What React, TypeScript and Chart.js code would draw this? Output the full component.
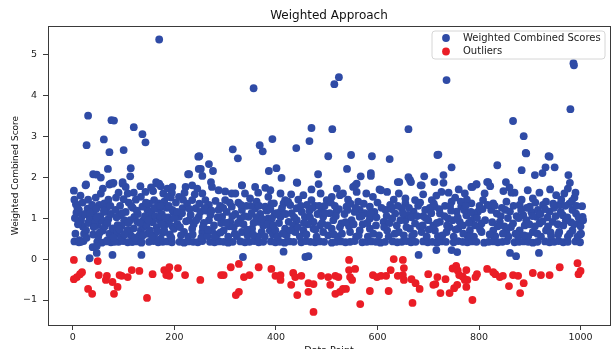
import React, { useEffect, useRef } from "react";
import { Chart, registerables } from "chart.js";

Chart.register(...registerables);

type P = [number, number];

const chartTitle = "Weighted Approach";
const xTitle = "Data Point";
const yTitle = "Weighted Combined Score";
const seriesNames = ["Weighted Combined Scores", "Outliers"];
const xTicks = [0, 200, 400, 600, 800, 1000];
const yTicks = [-1, 0, 1, 2, 3, 4, 5];

// dense bottom row of scores (~0.4)
const floorScores: P[] = [
  [3,0.43],[12,0.41],[21,0.44],[48,0.42],[57,0.4],[66,0.43],[75,0.41],[90,0.42],[99,0.44],[108,0.41],[117,0.42],[126,0.43],[135,0.4],[150,0.42],[159,0.44],[168,0.41],[177,0.42],[186,0.43],[195,0.41],
  [210,0.42],[219,0.4],[228,0.43],[237,0.42],[246,0.41],[255,0.44],[270,0.42],[279,0.41],[288,0.43],[297,0.42],[306,0.4],[315,0.42],[330,0.43],[339,0.41],[348,0.42],[357,0.44],[366,0.41],[375,0.42],[390,0.43],[399,0.41],
  [408,0.42],[417,0.4],[426,0.43],[435,0.42],[450,0.41],[459,0.44],[468,0.42],[477,0.41],[486,0.43],[495,0.42],[510,0.4],[519,0.42],[528,0.43],[537,0.41],[546,0.42],[555,0.44],[570,0.41],[579,0.42],[588,0.43],[597,0.42],
  [606,0.4],[615,0.42],[630,0.43],[639,0.41],[648,0.42],[657,0.44],[666,0.41],[675,0.42],[690,0.43],[699,0.41],[708,0.42],[717,0.4],[726,0.43],[735,0.42],[750,0.41],[759,0.44],[768,0.42],[777,0.41],[786,0.43],[795,0.42],
  [810,0.4],[819,0.42],[828,0.43],[837,0.41],[846,0.42],[855,0.44],[870,0.41],[879,0.42],[888,0.43],[897,0.42],[906,0.4],[915,0.42],[930,0.43],[939,0.41],[948,0.42],[957,0.44],[966,0.41],[975,0.42],[990,0.43],[999,0.41],
];

const scoresA: P[] = [
  [2,1.67],[26,1.82],[55,1.6],[59,1.72],[72,1.82],[78,1.84],[98,1.84],[104,1.76],[85,1.5],[100,1.46],[134,1.52],[143,1.64],[158,1.66],[166,1.84],[6,1.34],[7,1.13],[16,0.95],[29,1.23],[36,1.19],[42,1.07],
  [52,1.32],[62,1.36],[65,1.15],[20,0.79],[26,0.7],[36,0.95],[49,0.83],[59,0.7],[13,0.46],[16,0.42],[82,0.58],[95,0.54],[114,0.58],[111,0.7],[91,1.07],[101,0.95],[88,0.83],[121,1.03],[127,0.91],[134,0.7],
  [140,0.79],[147,1.2],[153,1.03],[160,1.44],[169,1.36],[147,0.62],[160,0.58],[173,0.5],[117,0.42],[134,0.46],[68,0.46],[82,0.42],[163,0.46],[25,1.8],[75,1.85],[80,1.86],[133,1.78],[154,1.75],[164,1.88],[173,1.78],
  [4,1.0],[10,0.85],[12,1.2],[18,1.05],[22,0.62],[24,1.1],[30,0.88],[33,0.98],[38,1.32],[40,0.6],[44,0.9],[46,1.22],[50,0.55],[54,1.05],[57,0.95],[63,0.8],[66,1.25],[70,0.98],[72,0.62],[75,1.1],
  [78,0.75],[84,1.2],[87,0.68],[93,1.3],[96,0.82],[104,1.15],[107,0.7],[110,1.38],[113,0.95],[118,1.25],[120,0.75],[124,1.45],[128,1.1],[131,0.58],[137,1.28],[139,0.95],[142,1.05],[145,0.82],[150,1.35],[152,0.7],
  [155,1.15],[157,0.9],[162,1.05],[165,0.78],[168,1.22],[171,0.95],[175,1.1],[178,0.65],[180,1.4],[183,0.85],[185,1.25],[188,1.02],[191,0.6],[193,1.5],[196,0.8],[198,1.15],[178,1.6],[186,1.72],[195,1.62],[120,1.62],
  [108,1.6],[45,1.5],[30,1.45],[15,1.55],[3,1.45],[70,1.45],[90,1.62],
];

const scoresB: P[] = [
  [196,1.76],[222,1.76],[235,1.8],[245,1.72],[274,1.76],[287,1.68],[333,1.8],[359,1.76],[379,1.74],[313,1.6],[339,1.6],[255,1.6],[186,1.52],[209,1.52],[235,1.44],[261,1.44],[300,1.44],[349,1.48],[385,1.52],[177,1.28],
  [196,1.2],[216,1.24],[242,1.24],[268,1.32],[287,1.2],[313,1.28],[333,1.2],[359,1.24],[379,1.28],[173,1.03],[190,0.95],[209,1.03],[229,0.95],[248,1.03],[268,0.95],[294,1.03],[310,0.91],[330,0.99],[346,1.03],[366,0.91],
  [385,0.99],[180,0.7],[199,0.74],[219,0.66],[235,0.74],[255,0.66],[274,0.7],[297,0.7],[317,0.78],[333,0.66],[353,0.74],[372,0.66],[388,0.7],[170,1.84],
  [203,1.38],[206,0.85],[213,0.58],[215,1.12],[225,1.35],[227,0.55],[232,1.08],[238,0.85],[240,1.58],[251,1.15],[253,0.52],[258,0.88],[263,1.18],[265,0.56],[271,1.08],[278,0.82],[281,1.42],[284,0.6],[290,1.3],[292,0.88],
  [303,1.15],[306,0.55],[308,0.8],[320,1.1],[323,0.56],[326,1.38],[336,0.85],[342,1.3],[344,0.58],[352,1.12],[356,0.88],[362,1.4],[364,0.55],[369,1.1],[375,0.82],[382,1.18],[391,1.35],[394,0.6],[397,1.08],[320,1.6],
  [300,1.65],[365,1.62],[220,1.62],
];

const scoresC: P[] = [
  [441,1.87],[559,1.84],[552,1.76],[604,1.7],[389,1.68],[409,1.6],[418,1.44],[415,1.36],[454,1.56],[470,1.44],[500,1.44],[510,1.52],[526,1.56],[532,1.6],[559,1.64],[578,1.6],[591,1.52],[607,1.68],[396,1.36],[409,1.16],
  [428,1.32],[441,1.24],[461,1.32],[490,1.2],[519,1.16],[539,1.28],[565,1.2],[585,1.28],[392,0.99],[409,1.03],[425,0.91],[441,0.95],[457,1.03],[474,0.91],[493,1.03],[513,0.95],[529,0.87],[549,0.95],[565,1.03],[585,0.99],
  [399,0.7],[418,0.74],[438,0.66],[454,0.7],[474,0.74],[493,0.66],[510,0.74],[526,0.78],[546,0.66],[565,0.7],[585,0.74],
  [403,0.55],[412,1.25],[421,0.58],[431,1.12],[434,0.82],[444,1.45],[447,0.55],[451,1.15],[463,0.85],[466,1.18],[477,1.3],[480,0.55],[482,1.1],[487,0.82],[496,1.3],[503,0.58],[506,1.12],[516,1.3],[522,0.55],[535,1.1],
  [542,1.45],[544,0.8],[555,1.15],[558,0.55],[562,1.4],[571,0.85],[575,1.12],[581,0.55],[594,1.15],[597,0.82],[600,1.38],[488,1.6],[470,1.7],[520,1.72],[430,1.58],
];

const scoresD: P[] = [
  [664,1.93],[687,1.8],[619,1.64],[642,1.6],[655,1.48],[726,1.64],[772,1.6],[785,1.76],[795,1.82],[818,1.88],[811,1.6],[625,1.32],[655,1.36],[674,1.44],[707,1.44],[713,1.28],[746,1.4],[765,1.28],[785,1.36],[808,1.44],
  [616,1.2],[635,1.11],[648,1.24],[671,1.16],[694,1.2],[723,1.11],[756,1.16],[775,1.07],[798,1.16],[612,0.91],[629,0.99],[655,0.95],[674,0.87],[700,0.95],[723,0.91],[739,0.99],[762,0.91],[785,0.95],[805,0.87],[619,0.7],
  [642,0.66],[664,0.74],[687,0.66],[713,0.7],[736,0.66],[759,0.74],[782,0.7],[805,0.66],
  [622,0.55],[632,1.45],[638,0.82],[652,0.58],[660,1.08],[668,0.56],[680,1.3],[683,0.8],[690,1.05],[697,0.55],[703,1.25],[710,0.82],[716,1.55],[719,0.56],[733,1.3],[742,0.78],[745,1.18],[750,0.55],[753,1.5],[768,0.82],
  [771,1.2],[778,0.55],[789,1.12],[792,0.82],[801,1.3],[776,1.45],[740,1.62],[690,1.58],[760,1.7],
];

const scoresE: P[] = [
  [848,1.66],[864,1.62],[870,1.62],[919,1.62],[906,1.48],[952,1.56],[968,1.6],[1003,1.29],[828,1.36],[854,1.4],[880,1.32],[900,1.28],[932,1.4],[958,1.32],[984,1.2],[835,1.11],[861,1.16],[887,1.07],[913,1.03],[939,1.16],
  [965,1.07],[991,1.11],[1004,1.03],[841,0.91],[867,0.87],[893,0.95],[919,0.87],[945,0.91],[971,0.95],[997,0.87],[828,0.7],[854,0.66],[880,0.7],[906,0.66],[932,0.7],[958,0.66],[984,0.7],[999,0.6],
  [824,1.2],[832,0.56],[845,1.25],[850,0.8],[858,0.55],[874,1.05],[877,0.56],[884,1.45],[890,0.82],[897,0.56],[903,1.15],[910,0.8],[916,1.2],[922,0.55],[926,1.32],[936,0.8],[942,0.56],[948,1.25],[955,0.85],[962,1.45],
  [975,0.55],[978,1.35],[981,0.9],[988,1.5],[994,0.55],[1000,0.8],[990,1.62],[975,1.72],[940,1.7],[896,1.68],[860,1.75],
];

// additional mid-band scores
const scoresMid: P[] = [
  [5,0.62],[9,1.25],[19,1.38],[27,0.52],[34,1.12],[41,0.78],[47,1.02],[53,0.65],[61,1.18],[68,0.88],[74,1.3],[80,0.52],[86,1.02],[92,0.72],[97,1.12],[102,0.6],[109,0.88],[115,1.3],[122,0.52],[126,1.18],
  [132,0.88],[138,0.58],[144,1.38],[149,0.95],[156,0.55],[161,1.25],[167,0.68],[172,1.3],[176,0.85],[182,1.02],[189,1.3],[194,0.52],[200,1.0],[205,1.15],[211,0.78],[217,1.45],[223,0.92],[230,1.22],[236,0.6],[243,0.95],
  [249,1.35],[256,0.78],[260,1.25],[266,0.72],[273,1.18],[279,0.55],[285,1.02],[291,0.65],[296,1.25],[302,0.88],[309,1.38],[314,1.05],[319,0.62],[325,0.88],[331,1.32],[338,1.05],[343,0.72],[350,1.3],[355,0.6],[361,1.02],
  [367,1.3],[373,0.98],[378,0.55],[384,0.85],[389,1.22],[395,0.82],[401,1.12],[406,0.88],[413,0.62],[419,1.1],[424,1.4],[429,0.7],[436,1.02],[443,0.78],[449,1.3],[455,0.88],[460,0.6],[467,1.02],[472,1.25],[478,0.72],
  [485,1.3],[491,0.88],[497,1.12],[502,0.82],[508,1.38],[514,0.6],[518,1.05],[524,1.22],[530,0.62],[537,0.9],[541,1.2],[547,1.35],[553,0.85],[557,1.25],[563,0.58],[569,1.05],[573,1.35],[580,0.88],[586,1.12],[592,0.62],
  [598,1.02],[603,0.58],[608,1.25],[613,0.78],[618,1.05],[624,0.88],[628,1.22],[634,0.62],[640,1.3],[645,0.95],[650,1.12],[657,0.78],[662,1.25],[667,1.02],[672,0.62],[678,1.05],[684,1.38],[689,0.82],[695,1.0],[701,0.72],
  [706,1.12],[711,1.35],[717,0.88],[722,1.22],[728,0.58],[732,1.05],[737,0.82],[743,1.3],[748,0.95],[754,0.72],[758,1.02],[764,1.4],[769,0.62],[774,1.3],[780,0.88],[784,1.15],[790,0.55],[796,1.0],[802,0.72],[807,1.22],
  [812,0.95],[817,1.32],[821,0.6],[826,0.9],[831,1.3],[837,0.8],[843,1.05],[847,0.62],[852,1.2],[857,1.0],[863,0.78],[868,1.3],[872,0.62],[878,1.0],[883,1.2],[889,0.58],[894,1.25],[899,0.85],[905,1.05],[911,1.38],
  [915,0.62],[921,1.1],[925,0.92],[930,1.22],[935,1.02],[941,0.65],[946,1.35],[951,1.05],[956,0.6],[961,1.15],[966,0.82],[970,1.3],[974,1.02],[979,0.62],[983,1.42],[987,0.85],[992,1.3],[996,1.02],[1001,0.62],[1005,0.95],
];

const highScores: P[] = [
  [170,5.36],[30,3.5],[76,3.39],[81,3.38],[120,3.22],[137,3.05],[143,2.85],[27,2.78],[61,2.92],[72,2.61],[100,2.66],[69,2.2],[114,2.22],[113,2.02],[40,2.07],[47,2.06],[55,1.99],[98,1.88],[227,2.07],[247,2.5],
  [248,2.2],[356,4.17],[515,4.27],[524,4.44],[470,3.2],[511,3.17],[393,2.93],[466,2.88],[315,2.68],[325,2.46],[368,2.78],[374,2.63],[440,2.71],[249,2.51],[503,2.51],[548,2.54],[589,2.51],[624,2.44],[540,2.2],[268,2.32],
  [252,2.2],[276,2.15],[255,2.03],[272,1.88],[229,2.07],[401,2.22],[386,2.15],[411,1.98],[442,1.86],[483,2.07],[484,1.83],[567,2.02],[587,2.1],[587,2.03],[333,1.8],[640,1.88],[556,1.8],
  [986,4.78],[987,4.73],[736,4.37],[980,3.66],[661,3.17],[867,3.37],[888,3.0],[892,2.59],[718,2.54],[937,2.51],[746,2.24],[836,2.29],[884,2.17],[931,2.24],[949,2.24],[910,2.05],[925,2.1],[976,2.05],[979,1.86],[692,2.02],
  [661,2.0],[666,1.88],[643,1.88],[685,1.8],[712,1.88],[730,2.05],[730,1.86],[787,1.76],[795,1.83],[816,1.88],[822,1.78],[853,1.88],[720,2.55],[893,2.58],[939,2.5],
];

const lowScores: P[] = [
  [33,0.02],[47,0.15],[39,0.29],[47,0.32],[78,0.1],[135,0.1],[335,0.05],[415,0.18],[458,0.05],[464,0.07],[681,0.1],[716,0.22],[746,0.22],[757,0.17],[861,0.15],[873,0.07],[918,0.15],
];

const outliers: P[] = [
  [2,-0.02],[2,-0.49],[8,-0.44],[14,-0.37],[18,-0.32],[49,-0.05],[30,-0.73],[38,-0.85],[51,-0.39],[65,-0.51],[67,-0.41],[78,-0.56],[88,-0.68],[81,-0.85],[92,-0.39],[96,-0.41],[108,-0.44],[116,-0.27],[131,-0.29],[146,-0.95],
  [157,-0.37],[180,-0.27],[186,-0.29],[190,-0.2],[184,-0.39],[190,-0.41],[207,-0.22],[221,-0.39],[251,-0.51],[292,-0.39],[297,-0.39],[311,-0.2],[327,-0.12],[321,-0.88],[327,-0.8],[337,-0.44],[348,-0.39],[366,-0.2],[391,-0.24],[399,-0.41],
  [409,-0.39],[409,-0.51],[434,-0.34],[438,-0.44],[450,-0.41],[430,-0.63],[442,-0.88],[464,-0.59],[474,-0.61],[464,-0.8],[474,-1.29],[489,-0.41],[503,-0.44],[517,-0.41],[523,-0.44],[507,-0.63],[517,-0.85],[526,-0.8],[532,-0.73],[544,-0.02],
  [544,-0.27],[556,-0.24],[546,-0.44],[550,-0.51],[538,-0.73],[566,-1.1],[585,-0.78],[591,-0.39],[599,-0.44],[607,-0.41],[617,-0.41],[622,-0.78],[626,-0.27],[632,0.0],[640,-0.41],[650,-0.39],[652,-0.51],[650,-0.02],[652,-0.22],[667,-0.49],
  [675,-0.59],[683,-0.73],[669,-1.07],[700,-0.37],[710,-0.63],[714,-0.61],[718,-0.44],[724,-0.83],[734,-0.49],[742,-0.83],[748,-0.23],[755,-0.17],[758,-0.28],[761,-0.39],[768,-0.43],[772,-0.51],[751,-0.71],[757,-0.63],[775,-0.27],[777,-0.51],
  [775,-0.68],[787,-1.0],[793,-0.44],[796,-0.37],[816,-0.24],[828,-0.32],[832,-0.37],[841,-0.44],[847,-0.41],[859,-0.66],[867,-0.39],[877,-0.41],[881,-0.83],[888,-0.59],[906,-0.34],[922,-0.39],[939,-0.39],[959,-0.2],[994,-0.1],[996,-0.37],
  [1000,-0.29],
];

const BLUE = "#2f4ba6";
const RED = "#ea1d26";
const FONT = "'DejaVu Sans', sans-serif";
const AXIS = "#3a3a3a";
const RADIUS = 3.9;

const toXY = (arr: P[]) => arr.map(([x, y]) => ({ x, y }));

const framePlugin = {
  id: "frame",
  afterDraw(chart: any) {
    const { ctx, chartArea: a } = chart;
    ctx.save();
    ctx.strokeStyle = AXIS;
    ctx.lineWidth = 1;
    ctx.strokeRect(Math.round(a.left) + 0.5, Math.round(a.top) + 0.5, Math.round(a.right - a.left), Math.round(a.bottom - a.top));
    ctx.restore();
  },
};

const legendPlugin = {
  id: "boxLegend",
  afterDraw(chart: any) {
    const { ctx } = chart;
    const x0 = 432, y0 = 31, w = 173, h = 28;
    ctx.save();
    ctx.beginPath();
    const r = 3;
    ctx.moveTo(x0 + r, y0);
    ctx.arcTo(x0 + w, y0, x0 + w, y0 + h, r);
    ctx.arcTo(x0 + w, y0 + h, x0, y0 + h, r);
    ctx.arcTo(x0, y0 + h, x0, y0, r);
    ctx.arcTo(x0, y0, x0 + w, y0, r);
    ctx.closePath();
    ctx.fillStyle = "rgba(255,255,255,0.8)";
    ctx.fill();
    ctx.strokeStyle = "#d6d6d6";
    ctx.lineWidth = 1;
    ctx.stroke();
    const colors = [BLUE, RED];
    const ys = [38, 51.5];
    ctx.font = `10px ${FONT}`;
    ctx.textBaseline = "middle";
    ctx.textAlign = "left";
    seriesNames.forEach((name, i) => {
      ctx.beginPath();
      ctx.arc(446, ys[i], RADIUS, 0, Math.PI * 2);
      ctx.fillStyle = colors[i];
      ctx.fill();
      ctx.fillStyle = "#222";
      ctx.fillText(name, 463, ys[i]);
    });
    ctx.restore();
  },
};

export default function App() {
  const ref = useRef<HTMLCanvasElement | null>(null);
  useEffect(() => {
    if (!ref.current) return;
    const blue = [
      ...floorScores, ...scoresA, ...scoresB, ...scoresC, ...scoresD, ...scoresE, ...scoresMid, ...highScores, ...lowScores,
    ];
    const chart = new Chart(ref.current, {
      type: "scatter",
      data: {
        datasets: [
          { label: seriesNames[0], data: toXY(blue), backgroundColor: BLUE, borderColor: BLUE, borderWidth: 0, pointRadius: RADIUS },
          { label: seriesNames[1], data: toXY(outliers), backgroundColor: RED, borderColor: RED, borderWidth: 0, pointRadius: RADIUS },
        ],
      },
      options: {
        animation: false,
        responsive: false,
        devicePixelRatio: 1,
        events: [],
        layout: { padding: 0 },
        plugins: {
          legend: { display: false },
          tooltip: { enabled: false },
          title: {
            display: true,
            text: chartTitle,
            fullSize: false,
            color: "#111",
            font: { family: FONT, size: 12, weight: "normal" },
            padding: { top: 9, bottom: 2.6 },
          },
        },
        scales: {
          x: {
            type: "linear",
            min: -49,
            max: 1058,
            afterBuildTicks: (s: any) => { s.ticks = xTicks.map((v) => ({ value: v })); },
            afterFit: (s: any) => { s.height = 40; },
            grid: { display: true, drawOnChartArea: false, drawTicks: true, tickLength: 5, color: AXIS },
            border: { display: true, color: AXIS },
            ticks: {
              font: { family: FONT, size: 9.5 },
              color: "#222",
              padding: 2,
              maxRotation: 0,
              autoSkip: false,
              callback: (v: any) => String(v),
            },
            title: { display: true, text: xTitle, color: "#111", font: { family: FONT, size: 9.5 }, padding: { top: 0, bottom: 9 } },
          },
          y: {
            type: "linear",
            min: -1.61,
            max: 5.69,
            afterBuildTicks: (s: any) => { s.ticks = yTicks.map((v) => ({ value: v })); },
            afterFit: (s: any) => { s.width = 48; },
            grid: { display: true, drawOnChartArea: false, drawTicks: true, tickLength: 5, color: AXIS },
            border: { display: true, color: AXIS },
            ticks: {
              font: { family: FONT, size: 9.5 },
              color: "#222",
              padding: 6,
              autoSkip: false,
              callback: (v: any) => (v < 0 ? "\u2212" + Math.abs(v) : String(v)),
            },
            title: { display: true, text: yTitle, color: "#111", font: { family: FONT, size: 9 }, padding: { top: 10, bottom: 0 } },
          },
        },
      } as any,
      plugins: [framePlugin, legendPlugin],
    });
    return () => chart.destroy();
  }, []);
  return (
    <div style={{ position: "fixed", left: 0, top: 0, width: 611, height: 349, overflow: "hidden", background: "#fff" }}>
      <canvas ref={ref} width={614} height={365} style={{ width: 614, height: 365, display: "block" }} />
    </div>
  );
}
